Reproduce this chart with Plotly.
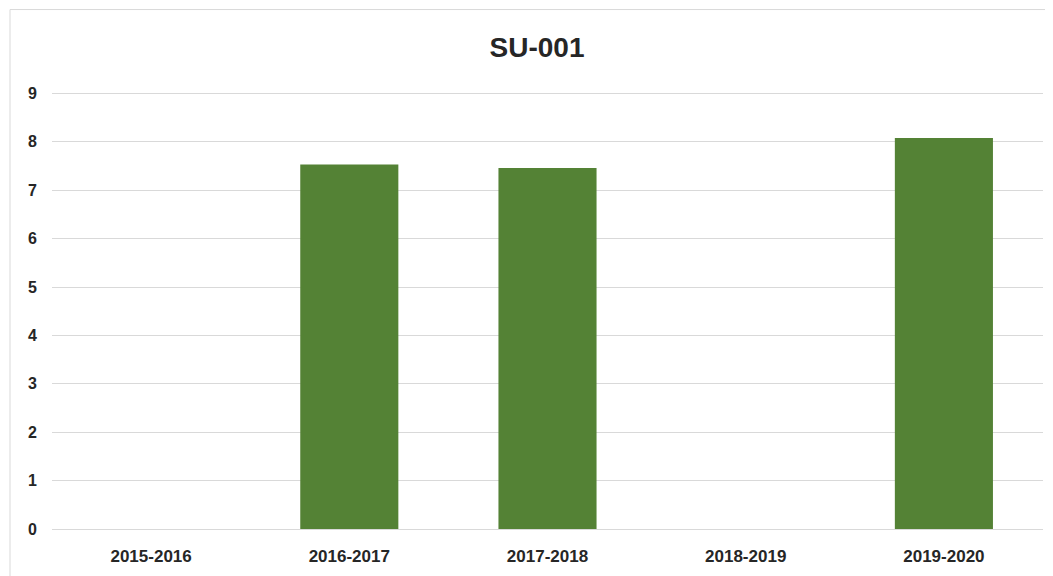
"""
SU-001 yearly bar chart, rebuilt with plotly
"""

import plotly.graph_objects as go

# data
years = ['2015-2016', '2016-2017', '2017-2018', '2018-2019', '2019-2020']
scores = [0, 7.53, 7.46, 0, 8.08]
y_ticks = [0, 1, 2, 3, 4, 5, 6, 7, 8, 9]

BAR_GREEN = '#548235'
GRID_GRAY = '#d9d9d9'
TEXT_DARK = '#262626'

# the page body adds an 8px offset, so the figure is 8px smaller each way
PAGE_OFF = 8

fig = go.Figure()

fig.add_trace(
    go.Bar(
        x=years,
        y=scores,
        marker=dict(color=BAR_GREEN, line=dict(width=0)),
        hovertemplate='<b>%{x}</b><br>%{y:.2f}<extra></extra>'
    )
)

# layout: plot area roughly x 52..1043, y 91..532 in the 1053x576 window
fig.update_layout(
    width=1053 - PAGE_OFF,
    height=576 - PAGE_OFF,
    margin=dict(l=52 - PAGE_OFF, r=10, t=91 - PAGE_OFF, b=44),
    paper_bgcolor='white',
    plot_bgcolor='white',
    showlegend=False,
    bargap=0.505,
    title=dict(
        text='SU-001',
        x=(537 - PAGE_OFF) / (1053 - PAGE_OFF),
        xanchor='center',
        xref='container',
        y=1 - (47 - PAGE_OFF) / (576 - PAGE_OFF),
        yanchor='middle',
        yref='container',
        font=dict(family='Liberation Sans Narrow, Liberation Sans, Arial', size=28,
                  color=TEXT_DARK, weight='bold')
    ),
    font=dict(family='Liberation Sans, Arial', color=TEXT_DARK)
)

fig.update_xaxes(
    showgrid=False,
    showline=True,
    linecolor=GRID_GRAY,
    linewidth=1,
    ticks='',
    tickfont=dict(size=17, color=TEXT_DARK, family='Liberation Sans, Arial', weight='bold'),
    ticklabelstandoff=12
)

# a little headroom above 9 so its gridline is drawn
fig.update_yaxes(
    range=[0, 9.05],
    tickvals=y_ticks,
    showgrid=True,
    gridcolor=GRID_GRAY,
    gridwidth=1,
    zeroline=False,
    showline=False,
    ticks='',
    tickfont=dict(size=16, color=TEXT_DARK, family='Liberation Sans, Arial', weight='bold'),
    ticklabelstandoff=14
)

# thin chart-area frame like the spreadsheet export
fig.add_shape(
    type='rect',
    xref='paper', yref='paper',
    x0=(10 - 52) / 991, x1=(1070 - 52) / 991,
    y0=(532 - 600) / 441, y1=(532 - 9) / 441,
    line=dict(color=GRID_GRAY, width=1),
    fillcolor='rgba(0,0,0,0)',
    layer='below'
)

fig.write_html("out.html")
